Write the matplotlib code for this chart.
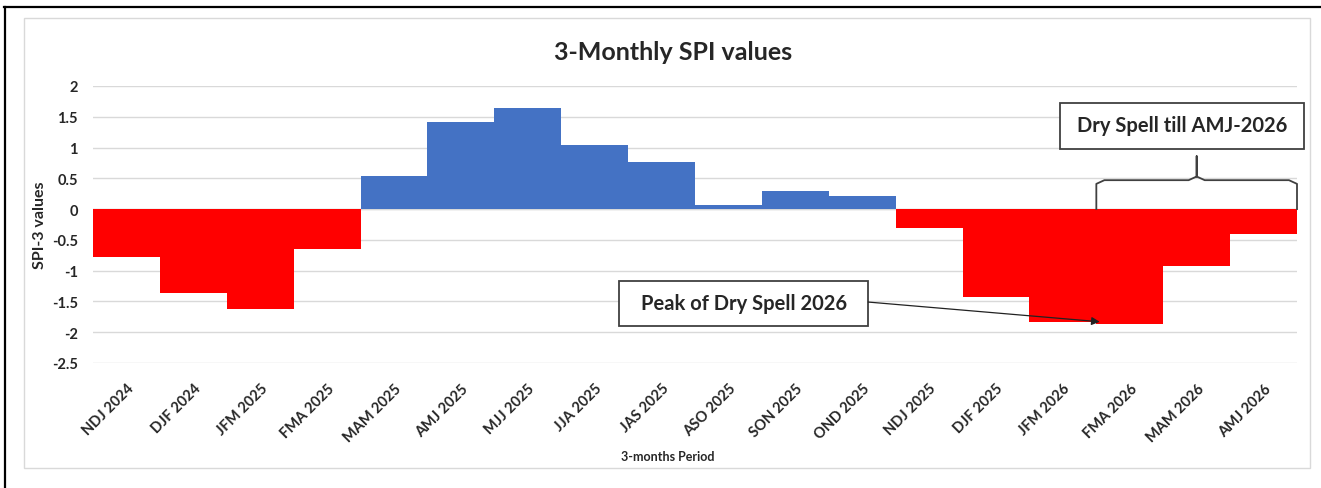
import numpy as np
import matplotlib.pyplot as plt
from matplotlib.patches import Rectangle
from matplotlib.lines import Line2D

periods = ['NDJ 2024', 'DJF 2024', 'JFM 2025', 'FMA 2025', 'MAM 2025', 'AMJ 2025',
           'MJJ 2025', 'JJA 2025', 'JAS 2025', 'ASO 2025', 'SON 2025', 'OND 2025',
           'NDJ 2025', 'DJF 2025', 'JFM 2026', 'FMA 2026', 'MAM 2026', 'AMJ 2026']
spi3 = [-0.77, -1.37, -1.63, -0.65, 0.54, 1.41, 1.64, 1.04, 0.76, 0.07, 0.30, 0.22,
        -0.30, -1.43, -1.83, -1.86, -0.93, -0.41]
yticks = [2, 1.5, 1, 0.5, 0, -0.5, -1, -1.5, -2, -2.5]

BLUE = '#4472C4'
RED = '#FF0000'
TXT = '#262626'
plt.rcParams['font.family'] = ['Lato', 'DejaVu Sans']

W, H = 1321, 489
fig = plt.figure(figsize=(W / 100, H / 100), dpi=100)

# chart area border (light grey) and outer black frame
fig.patches.append(Rectangle((24 / W, 1 - 469 / H), (1310 - 24) / W, (469 - 19) / H,
                             transform=fig.transFigure, fill=False,
                             edgecolor='#D9D9D9', lw=1))
fig.lines.append(Line2D([4 / W, 1], [1 - 7.5 / H, 1 - 7.5 / H], transform=fig.transFigure,
                        color='black', lw=1.6))
fig.lines.append(Line2D([4.5 / W, 4.5 / W], [0, 1 - 7.5 / H], transform=fig.transFigure,
                        color='black', lw=1.6))

ax = fig.add_axes([93 / W, 1 - 364 / H, (1297 - 93) / W, (364 - 87) / H])
x = np.arange(len(periods))
colors = [BLUE if v >= 0 else RED for v in spi3]
ax.bar(x, spi3, width=1.0, color=colors, zorder=2)

ax.set_xlim(-0.5, len(periods) - 0.5)
ax.set_ylim(-2.5, 2)
ax.set_yticks(yticks)
ax.set_yticklabels([f'{t:g}' for t in yticks], fontsize=10.5, fontweight='bold', color=TXT)
ax.set_xticks(x)
ax.set_xticklabels(periods, rotation=45, ha='right', va='top', rotation_mode='anchor',
                   fontsize=10.5, fontweight='bold', color=TXT)
ax.tick_params(axis='both', length=0)
ax.tick_params(axis='x', pad=13)
ax.tick_params(axis='y', pad=11)
ax.grid(axis='y', color='#D9D9D9', lw=1, zorder=0)
for s in ax.spines.values():
    s.set_visible(False)
ax.axhline(0, color='#D9D9D9', lw=1, zorder=1)

fig.text(673 / W, 1 - 53 / H, '3-Monthly SPI values', ha='center', va='center',
         fontsize=18, fontweight='bold', color=TXT)
fig.text(40 / W, 1 - 225 / H, 'SPI-3 values', ha='center', va='center', rotation=90,
         fontsize=11.5, fontweight='bold', color=TXT)
fig.text(668 / W, 1 - 457 / H, '3-months Period', ha='center', va='center',
         fontsize=9, fontweight='bold', color=TXT)

# annotation: peak of dry spell
ax.add_patch(Rectangle((7.37, -1.9), 11.09 - 7.37, 0.73, facecolor='white',
                       edgecolor='#404040', lw=1.3, zorder=4))
ax.text(9.23, -1.53, 'Peak of Dry Spell 2026', ha='center', va='center',
        fontsize=14.5, fontweight='bold', color=TXT, zorder=5)
ax.annotate('', xy=(14.55, -1.83), xytext=(11.09, -1.51),
            arrowprops=dict(arrowstyle='-|>', color='#222222', lw=0.9,
                            mutation_scale=12, shrinkA=0, shrinkB=0), zorder=5)

# annotation: dry spell till AMJ-2026 with brace
ax.add_patch(Rectangle((13.95, 0.98), 17.6 - 13.95, 0.75, facecolor='white',
                       edgecolor='#404040', lw=1.3, zorder=4, clip_on=False))
ax.text(15.78, 1.36, 'Dry Spell till AMJ-2026', ha='center', va='center',
        fontsize=14.5, fontweight='bold', color=TXT, zorder=5)
bx0, bx1, bmid = 14.5, 17.5, 16.0
ytop, ybot, ytip = 0.47, 0.0, 0.86
r = 0.12
brace_x = [bx0, bx0, bx0 + r, bmid - r, bmid, bmid, bmid, bmid + r, bx1 - r, bx1, bx1]
brace_y = [ybot, ytop - 0.06, ytop, ytop, ytop + 0.06, ytip, ytop + 0.06, ytop, ytop,
           ytop - 0.06, ybot]
ax.plot(brace_x, brace_y, color='#404040', lw=1.3, zorder=5, clip_on=False,
        solid_joinstyle='round')

fig.savefig('out.png', dpi=100)
